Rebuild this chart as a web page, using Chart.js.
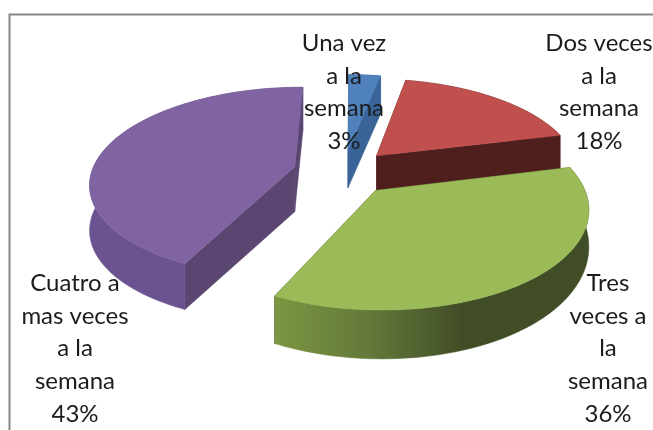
<!DOCTYPE html>
<html>
<head>
<meta charset="utf-8">
<style>
  html, body { margin: 0; padding: 0; background: #fff; overflow: hidden; }
  #wrap { width: 653px; height: 430px; }
</style>
</head>
<body>
<div id="wrap"><canvas id="pie-chart" width="653" height="430"></canvas></div>
<script src="https://cdn.jsdelivr.net/npm/chart.js@4"></script>
<script>
// Chart data
const categories = ['Una vez a la semana', 'Dos veces a la semana', 'Tres veces a la semana', 'Cuatro a mas veces a la semana'];
const values = [3, 18, 36, 43];
const labelLines = [
  ['Una vez', 'a la', 'semana'],
  ['Dos veces', 'a la', 'semana'],
  ['Tres', 'veces a', 'la', 'semana'],
  ['Cuatro a', 'mas veces', 'a la', 'semana']
];

// Slice styles
const topColors = ['#4f81bd', '#c0504d', '#9bbb59', '#8064a2'];
const cutColors = ['#3a6497', '#4f1f1e', '#414d26', '#5a4670'];
const rimStops = [
  [[0, '#3a6497'], [1, '#3a6497']],
  [[0, '#4f1f1e'], [1, '#4f1f1e']],
  [[0, '#7c9642'], [0.3, '#64793a'], [0.6, '#414d26'], [1, '#414d26']],
  [[0, '#6b5291'], [0.5, '#6a5190'], [1, '#5c4674']]
];
// Extrusion height per slice: base + slope * depth position
const sideDepth = [[38, 0], [36, 0], [31, 15], [45, 1]];
// Where each label block starts (x centre, first line y)
const labelPos = [[344, 43], [599, 43], [608, 283], [75, 283]];

// Perspective used for the tilted pie
const tilt = 0.462;
const persp = 0.16;

function project(el, wx, wy) {
  const k = 1 / (1 - persp * wy / el.outerRadius);
  return [el.x + wx * k, el.y + wy * tilt * k];
}

// Outline point of a slice, in flat pie space, moved out by the slice offset
function slicePoint(el, angle, radius) {
  const mid = (el.startAngle + el.endAngle) / 2;
  const off = el.options.offset / 4;
  return [off * Math.cos(mid) + radius * Math.cos(angle), off * Math.sin(mid) + radius * Math.sin(angle)];
}

function rimPoints(el) {
  const pts = [];
  const steps = Math.max(4, Math.ceil((el.endAngle - el.startAngle) * 40));
  for (let i = 0; i <= steps; i++) {
    const a = el.startAngle + (el.endAngle - el.startAngle) * i / steps;
    pts.push(slicePoint(el, a, el.outerRadius));
  }
  return pts;
}

function fillPath(ctx, pts, fill) {
  ctx.beginPath();
  pts.forEach((p, i) => i ? ctx.lineTo(p[0], p[1]) : ctx.moveTo(p[0], p[1]));
  ctx.closePath();
  ctx.fillStyle = fill;
  ctx.fill();
  ctx.strokeStyle = fill;
  ctx.lineWidth = 0.5;
  ctx.stroke();
}

const pie3d = {
  id: 'pie3d',
  beforeDraw(chart) {
    // grey frame, runs off the right and bottom of the picture
    const ctx = chart.ctx;
    ctx.save();
    ctx.strokeStyle = '#868686';
    ctx.lineWidth = 2;
    ctx.beginPath();
    ctx.moveTo(9.5, 440);
    ctx.lineTo(9.5, 14.5);
    ctx.lineTo(660, 14.5);
    ctx.stroke();
    ctx.restore();
  },
  beforeDatasetsDraw(chart) {
    const ctx = chart.ctx;
    const arcs = chart.getDatasetMeta(0).data;
    ctx.save();
    arcs.forEach((el, i) => {
      const [base, slope] = sideDepth[i];
      const flat = pt => project(el, pt[0], pt[1]);
      const low = pt => {
        const p = project(el, pt[0], pt[1]);
        return [p[0], p[1] + base + slope * pt[1] / el.outerRadius];
      };
      const rim = rimPoints(el);
      const apex = slicePoint(el, 0, 0);
      const top = [flat(apex)].concat(rim.map(flat));

      // the two cut walls
      [rim[0], rim[rim.length - 1]].forEach(edge => {
        fillPath(ctx, [flat(apex), flat(edge), low(edge), low(apex)], cutColors[i]);
      });

      // outer wall
      const xs = rim.map(flat).map(p => p[0]);
      const grad = ctx.createLinearGradient(Math.min(...xs), 0, Math.max(...xs), 0);
      rimStops[i].forEach(s => grad.addColorStop(s[0], s[1]));
      fillPath(ctx, rim.map(flat).concat(rim.map(low).reverse()), grad);

      // top face
      fillPath(ctx, top, el.options.backgroundColor);
    });
    ctx.restore();
    return false;
  },
  afterDraw(chart) {
    const ctx = chart.ctx;
    ctx.save();
    ctx.font = '24px Lato, Carlito, sans-serif';
    ctx.fillStyle = '#1c1c1c';
    ctx.textAlign = 'center';
    ctx.textBaseline = 'middle';
    labelLines.forEach((lines, i) => {
      const rows = lines.concat(values[i] + '%');
      rows.forEach((row, r) => ctx.fillText(row, labelPos[i][0], labelPos[i][1] + r * 32.8));
    });
    ctx.restore();
  }
};

new Chart(document.getElementById('pie-chart').getContext('2d'), {
  type: 'pie',
  data: {
    labels: categories,
    datasets: [{
      data: values,
      backgroundColor: topColors,
      borderWidth: 0,
      offset: 200
    }]
  },
  options: {
    responsive: false,
    animation: false,
    rotation: 0.5,
    radius: 203,
    layout: { padding: { left: 33, bottom: 86 } },
    plugins: { legend: { display: false }, tooltip: { enabled: false } }
  },
  plugins: [pie3d]
});
</script>
</body>
</html>
